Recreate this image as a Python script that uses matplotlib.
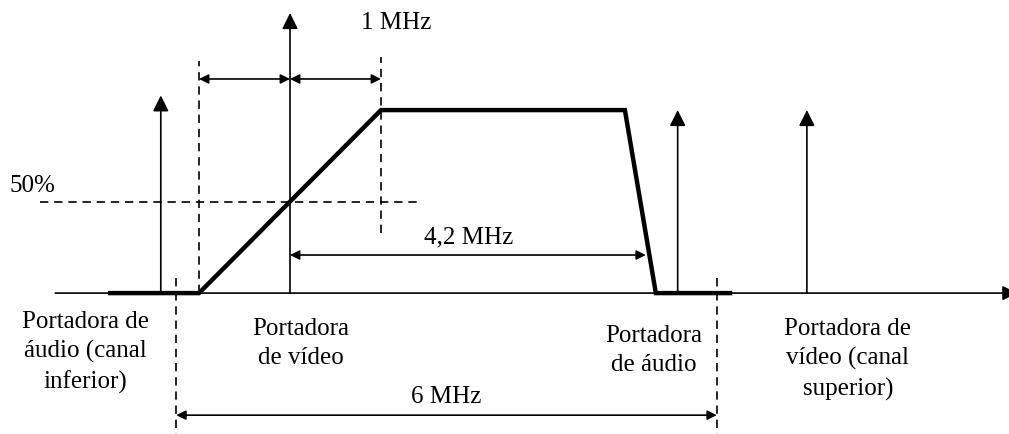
import matplotlib
matplotlib.use("Agg")
from matplotlib import pyplot as plt

# frequency in MHz relative to the video carrier, amplitude in % of the flat top
mask_f = [-2.0, -1.0, 1.0, 3.68, 4.02, 4.86]
mask_a = [0, 0, 100, 100, 0, 0]

carrier_f = [-1.42, 0.0, 4.26, 5.68]
carrier_a = [108, 153, 100, 100]
carrier_labels = ["Portadora de\náudio (canal\ninferior)", "Portadora\nde vídeo",
                  "Portadora\nde áudio", "Portadora de\nvídeo (canal\nsuperior)"]
label_f = [-2.25, 0.12, 4.0, 6.13]
label_a = [-9, -13, -17, -13]

channel_edges = [-1.25, 4.69]
vsb_edges = [-1.0, 1.0]

plt.rcParams['font.family'] = ['Liberation Serif', 'DejaVu Serif']

fig = plt.figure(figsize=(10.09, 4.35), dpi=100)
ax = fig.add_axes([0, 0, 1, 1])
ax.set_xlim(-3.187, 7.901)
ax.set_ylim(-77.0, 160.7)
ax.axis('off')

dash = dict(color='black', lw=1.2, ls=(0, (5, 3.5)))
fs = 18

# frequency axis
ax.annotate('', xy=(7.99, 0), xytext=(-2.58, 0), annotation_clip=False,
            arrowprops=dict(arrowstyle='-|>', color='black', lw=1.2,
                            mutation_scale=22, shrinkA=0, shrinkB=0))

# carriers
for f, a in zip(carrier_f, carrier_a):
    ax.annotate('', xy=(f, a), xytext=(f, 0),
                arrowprops=dict(arrowstyle='-|>', color='black', lw=1.2,
                                mutation_scale=24, shrinkA=0, shrinkB=0))

# spectrum mask
ax.plot(mask_f, mask_a, color='black', lw=3.2, solid_joinstyle='miter',
        solid_capstyle='butt')

# dashed guides
ax.plot([vsb_edges[0], vsb_edges[0]], [0, 127], **dash)
ax.plot([vsb_edges[1], vsb_edges[1]], [33, 129], **dash)
ax.plot([-2.75, 1.43], [50, 50], **dash)
for f in channel_edges:
    ax.plot([f, f], [8, -78], **dash)

dim = dict(arrowstyle='<|-|>', color='black', lw=1.2, mutation_scale=14,
           shrinkA=0, shrinkB=0)
# 1 MHz
ax.annotate('', xy=(vsb_edges[0], 117), xytext=(0, 117), arrowprops=dim)
ax.annotate('', xy=(0, 117), xytext=(vsb_edges[1], 117), arrowprops=dim)
ax.text(1.17, 148, "1 MHz", fontsize=fs, ha='center', va='center')

# 4,2 MHz
ax.annotate('', xy=(0, 20.8), xytext=(3.91, 20.8), arrowprops=dim)
ax.text(1.96, 31, "4,2 MHz", fontsize=fs, ha='center', va='center')

# 6 MHz
ax.annotate('', xy=(channel_edges[0], -66.7), xytext=(channel_edges[1], -66.7),
            arrowprops=dim)
ax.text(1.72, -56, "6 MHz", fontsize=fs, ha='center', va='center')

ax.text(-2.83, 59, "50%", fontsize=fs, ha='center', va='center')

for f, a, s in zip(label_f, label_a, carrier_labels):
    ax.text(f, a, s, fontsize=fs, ha='center', va='top', linespacing=1.42)

fig.savefig("out.png", dpi=100)
